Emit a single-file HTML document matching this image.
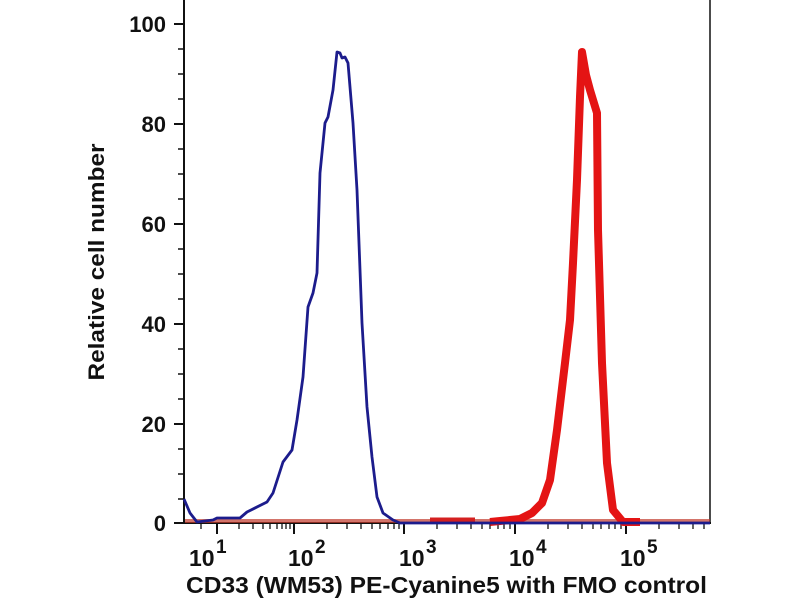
<!DOCTYPE html>
<html><head><meta charset="utf-8"><style>
html,body{margin:0;padding:0;background:#fff;width:800px;height:600px;overflow:hidden}
svg{display:block}
text{font-family:"Liberation Sans",Arial,sans-serif;font-weight:bold;fill:#111}
</style></head><body>
<svg width="800" height="600" viewBox="0 0 800 600" xmlns="http://www.w3.org/2000/svg">
<rect width="800" height="600" fill="#fff"/>
<line x1="184" y1="0" x2="184" y2="524" stroke="#111" stroke-width="2"/>
<line x1="710" y1="0" x2="710" y2="524" stroke="#111" stroke-width="1.5"/>
<line x1="183" y1="523" x2="711" y2="523" stroke="#111" stroke-width="2"/>
<g stroke="#111" stroke-width="2">
<line x1="174" y1="24" x2="184" y2="24"/><line x1="174" y1="124" x2="184" y2="124"/>
<line x1="174" y1="224" x2="184" y2="224"/><line x1="174" y1="324" x2="184" y2="324"/>
<line x1="174" y1="424" x2="184" y2="424"/><line x1="174" y1="523" x2="184" y2="523"/>
</g>
<g stroke="#111" stroke-width="1.5">
<line x1="178" y1="49" x2="184" y2="49"/><line x1="178" y1="74" x2="184" y2="74"/><line x1="178" y1="99" x2="184" y2="99"/>
<line x1="178" y1="149" x2="184" y2="149"/><line x1="178" y1="174" x2="184" y2="174"/><line x1="178" y1="199" x2="184" y2="199"/>
<line x1="178" y1="249" x2="184" y2="249"/><line x1="178" y1="274" x2="184" y2="274"/><line x1="178" y1="299" x2="184" y2="299"/>
<line x1="178" y1="349" x2="184" y2="349"/><line x1="178" y1="374" x2="184" y2="374"/><line x1="178" y1="399" x2="184" y2="399"/>
<line x1="178" y1="449" x2="184" y2="449"/><line x1="178" y1="474" x2="184" y2="474"/><line x1="178" y1="499" x2="184" y2="499"/>
</g>
<g font-size="22" text-anchor="end">
<text x="166" y="32">100</text><text x="166" y="132">80</text><text x="166" y="232">60</text>
<text x="166" y="332">40</text><text x="166" y="432">20</text><text x="166" y="531">0</text>
</g>
<g stroke="#111" stroke-width="2">
<line x1="217" y1="523" x2="217" y2="534"/><line x1="294" y1="523" x2="294" y2="534"/>
<line x1="404" y1="523" x2="404" y2="534"/><line x1="515" y1="523" x2="515" y2="534"/>
<line x1="626" y1="523" x2="626" y2="534"/>
</g>
<g stroke="#111" stroke-width="1.3">
<line x1="201" y1="523" x2="201" y2="529"/><line x1="239" y1="523" x2="239" y2="529"/>
<line x1="253" y1="523" x2="253" y2="529"/><line x1="263" y1="523" x2="263" y2="529"/>
<line x1="270" y1="523" x2="270" y2="529"/><line x1="277" y1="523" x2="277" y2="529"/>
<line x1="282" y1="523" x2="282" y2="529"/><line x1="286" y1="523" x2="286" y2="529"/><line x1="290" y1="523" x2="290" y2="529"/>
<line x1="327" y1="523" x2="327" y2="529"/><line x1="347" y1="523" x2="347" y2="529"/><line x1="361" y1="523" x2="361" y2="529"/>
<line x1="372" y1="523" x2="372" y2="529"/><line x1="380" y1="523" x2="380" y2="529"/><line x1="388" y1="523" x2="388" y2="529"/>
<line x1="394" y1="523" x2="394" y2="529"/><line x1="399" y1="523" x2="399" y2="529"/>
<line x1="437" y1="523" x2="437" y2="529"/><line x1="457" y1="523" x2="457" y2="529"/><line x1="471" y1="523" x2="471" y2="529"/>
<line x1="482" y1="523" x2="482" y2="529"/><line x1="490" y1="523" x2="490" y2="529"/><line x1="498" y1="523" x2="498" y2="529"/>
<line x1="504" y1="523" x2="504" y2="529"/><line x1="510" y1="523" x2="510" y2="529"/>
<line x1="548" y1="523" x2="548" y2="529"/><line x1="568" y1="523" x2="568" y2="529"/><line x1="582" y1="523" x2="582" y2="529"/>
<line x1="593" y1="523" x2="593" y2="529"/><line x1="601" y1="523" x2="601" y2="529"/><line x1="609" y1="523" x2="609" y2="529"/>
<line x1="615" y1="523" x2="615" y2="529"/><line x1="621" y1="523" x2="621" y2="529"/>
<line x1="659" y1="523" x2="659" y2="529"/><line x1="679" y1="523" x2="679" y2="529"/><line x1="693" y1="523" x2="693" y2="529"/><line x1="704" y1="523" x2="704" y2="529"/>
</g>
<g font-size="23">
<text x="189" y="566">10</text><text x="216" y="553" font-size="19">1</text>
<text x="288" y="566">10</text><text x="315" y="553" font-size="19">2</text>
<text x="399" y="566">10</text><text x="426" y="553" font-size="19">3</text>
<text x="509" y="566">10</text><text x="536" y="553" font-size="19">4</text>
<text x="620" y="566">10</text><text x="647" y="553" font-size="19">5</text>
</g>
<text x="186" y="593" font-size="23" textLength="521" lengthAdjust="spacingAndGlyphs">CD33 (WM53) PE-Cyanine5 with FMO control</text>
<text transform="translate(104,262) rotate(-90)" font-size="22" text-anchor="middle" textLength="237" lengthAdjust="spacingAndGlyphs">Relative cell number</text>
<line x1="185" y1="521" x2="710" y2="521" stroke="#c0392b" stroke-opacity="0.7" stroke-width="4"/>
<line x1="430" y1="520" x2="475" y2="520" stroke="#d42020" stroke-width="5"/>
<polyline fill="none" stroke="#e41414" stroke-width="8" stroke-linejoin="round"
points="490,522 500,521 520,519 532,513 542,503 550,480 557,430 565,363 570,320 573,263 577,180 580,97 582,52 586,75 590,90 597,113 598,230 602,363 607,463 613,510 623,522 640,522"/>
<polyline fill="none" stroke="#1c1c8c" stroke-width="2.8" stroke-linejoin="round"
points="184,499 190,513 197,522 213,520 217,518 240,518 247,512 267,502 273,493 283,462 292,450 297,420 303,377 308,307 313,293 317,273 320,173 325,123 328,117 333,90 337,52 340,53 342,58 345,57 348,63 353,123 357,190 362,323 367,407 372,457 377,497 383,513 393,520 400,523 710,523"/>
</svg>
</body></html>
